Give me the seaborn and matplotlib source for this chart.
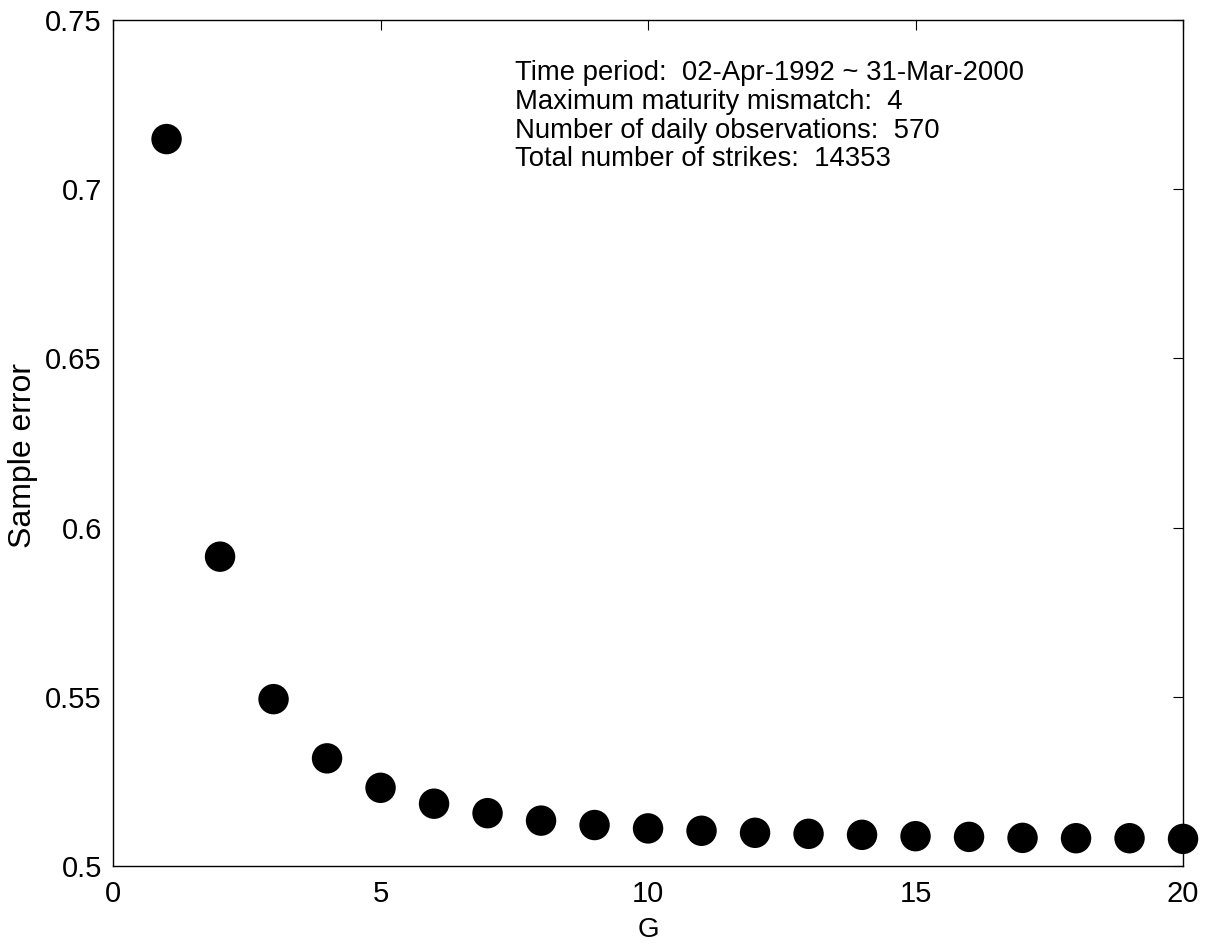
import numpy as np
import pandas as pd
import seaborn as sns
import matplotlib
matplotlib.use('Agg')
import matplotlib.pyplot as plt

# data
G = [1, 2, 3, 4, 5, 6, 7, 8, 9, 10, 11, 12, 13, 14, 15, 16, 17, 18, 19, 20]
sample_error = [0.7148, 0.5914, 0.5493, 0.5318, 0.5231, 0.5184, 0.5156, 0.5134,
                0.5121, 0.5111, 0.5104, 0.5098, 0.5095, 0.5092, 0.5088, 0.5086,
                0.5083, 0.5082, 0.5082, 0.5080]
info_lines = ['Time period:  02-Apr-1992 ~ 31-Mar-2000',
              'Maximum maturity mismatch:  4',
              'Number of daily observations:  570',
              'Total number of strikes:  14353']

sns.set_style('white')
plt.rcParams['font.family'] = ['Liberation Sans', 'DejaVu Sans']

df = pd.DataFrame({'G': G, 'err': sample_error})

fig = plt.figure(figsize=(12.13, 9.46), dpi=100)
ax = fig.add_axes([0.0932, 0.0846, 0.8821, 0.8943])

sns.scatterplot(data=df, x='G', y='err', color='black', s=480, edgecolor='none',
                ax=ax, legend=False, clip_on=False, zorder=3)

ax.set_xlim(0, 20)
ax.set_ylim(0.5, 0.75)
ax.set_xticks([0, 5, 10, 15, 20])
ax.set_yticks([0.5, 0.55, 0.6, 0.65, 0.7, 0.75])
ax.set_yticklabels(['0.5', '0.55', '0.6', '0.65', '0.7', '0.75'])
ax.tick_params(direction='in', length=7, width=0.8, top=True, right=True,
               labelsize=21, colors='black')
ax.tick_params(axis='x', pad=10)
ax.tick_params(axis='y', pad=8)
for s in ax.spines.values():
    s.set_color('black')
    s.set_linewidth(1.0)

ax.set_xlabel('G', fontsize=20, color='black')
ax.set_ylabel('Sample error', fontsize=23, color='black')
ax.yaxis.set_label_coords(-0.070, 0.485)
ax.xaxis.set_label_coords(0.5, -0.060)

# annotation block
y0 = 0.937
for i, line in enumerate(info_lines):
    ax.text(0.3757, y0 - i * 0.0339, line, transform=ax.transAxes,
            fontsize=19.8, va='center', ha='left', color='black')

fig.savefig('out.png', dpi=100)
